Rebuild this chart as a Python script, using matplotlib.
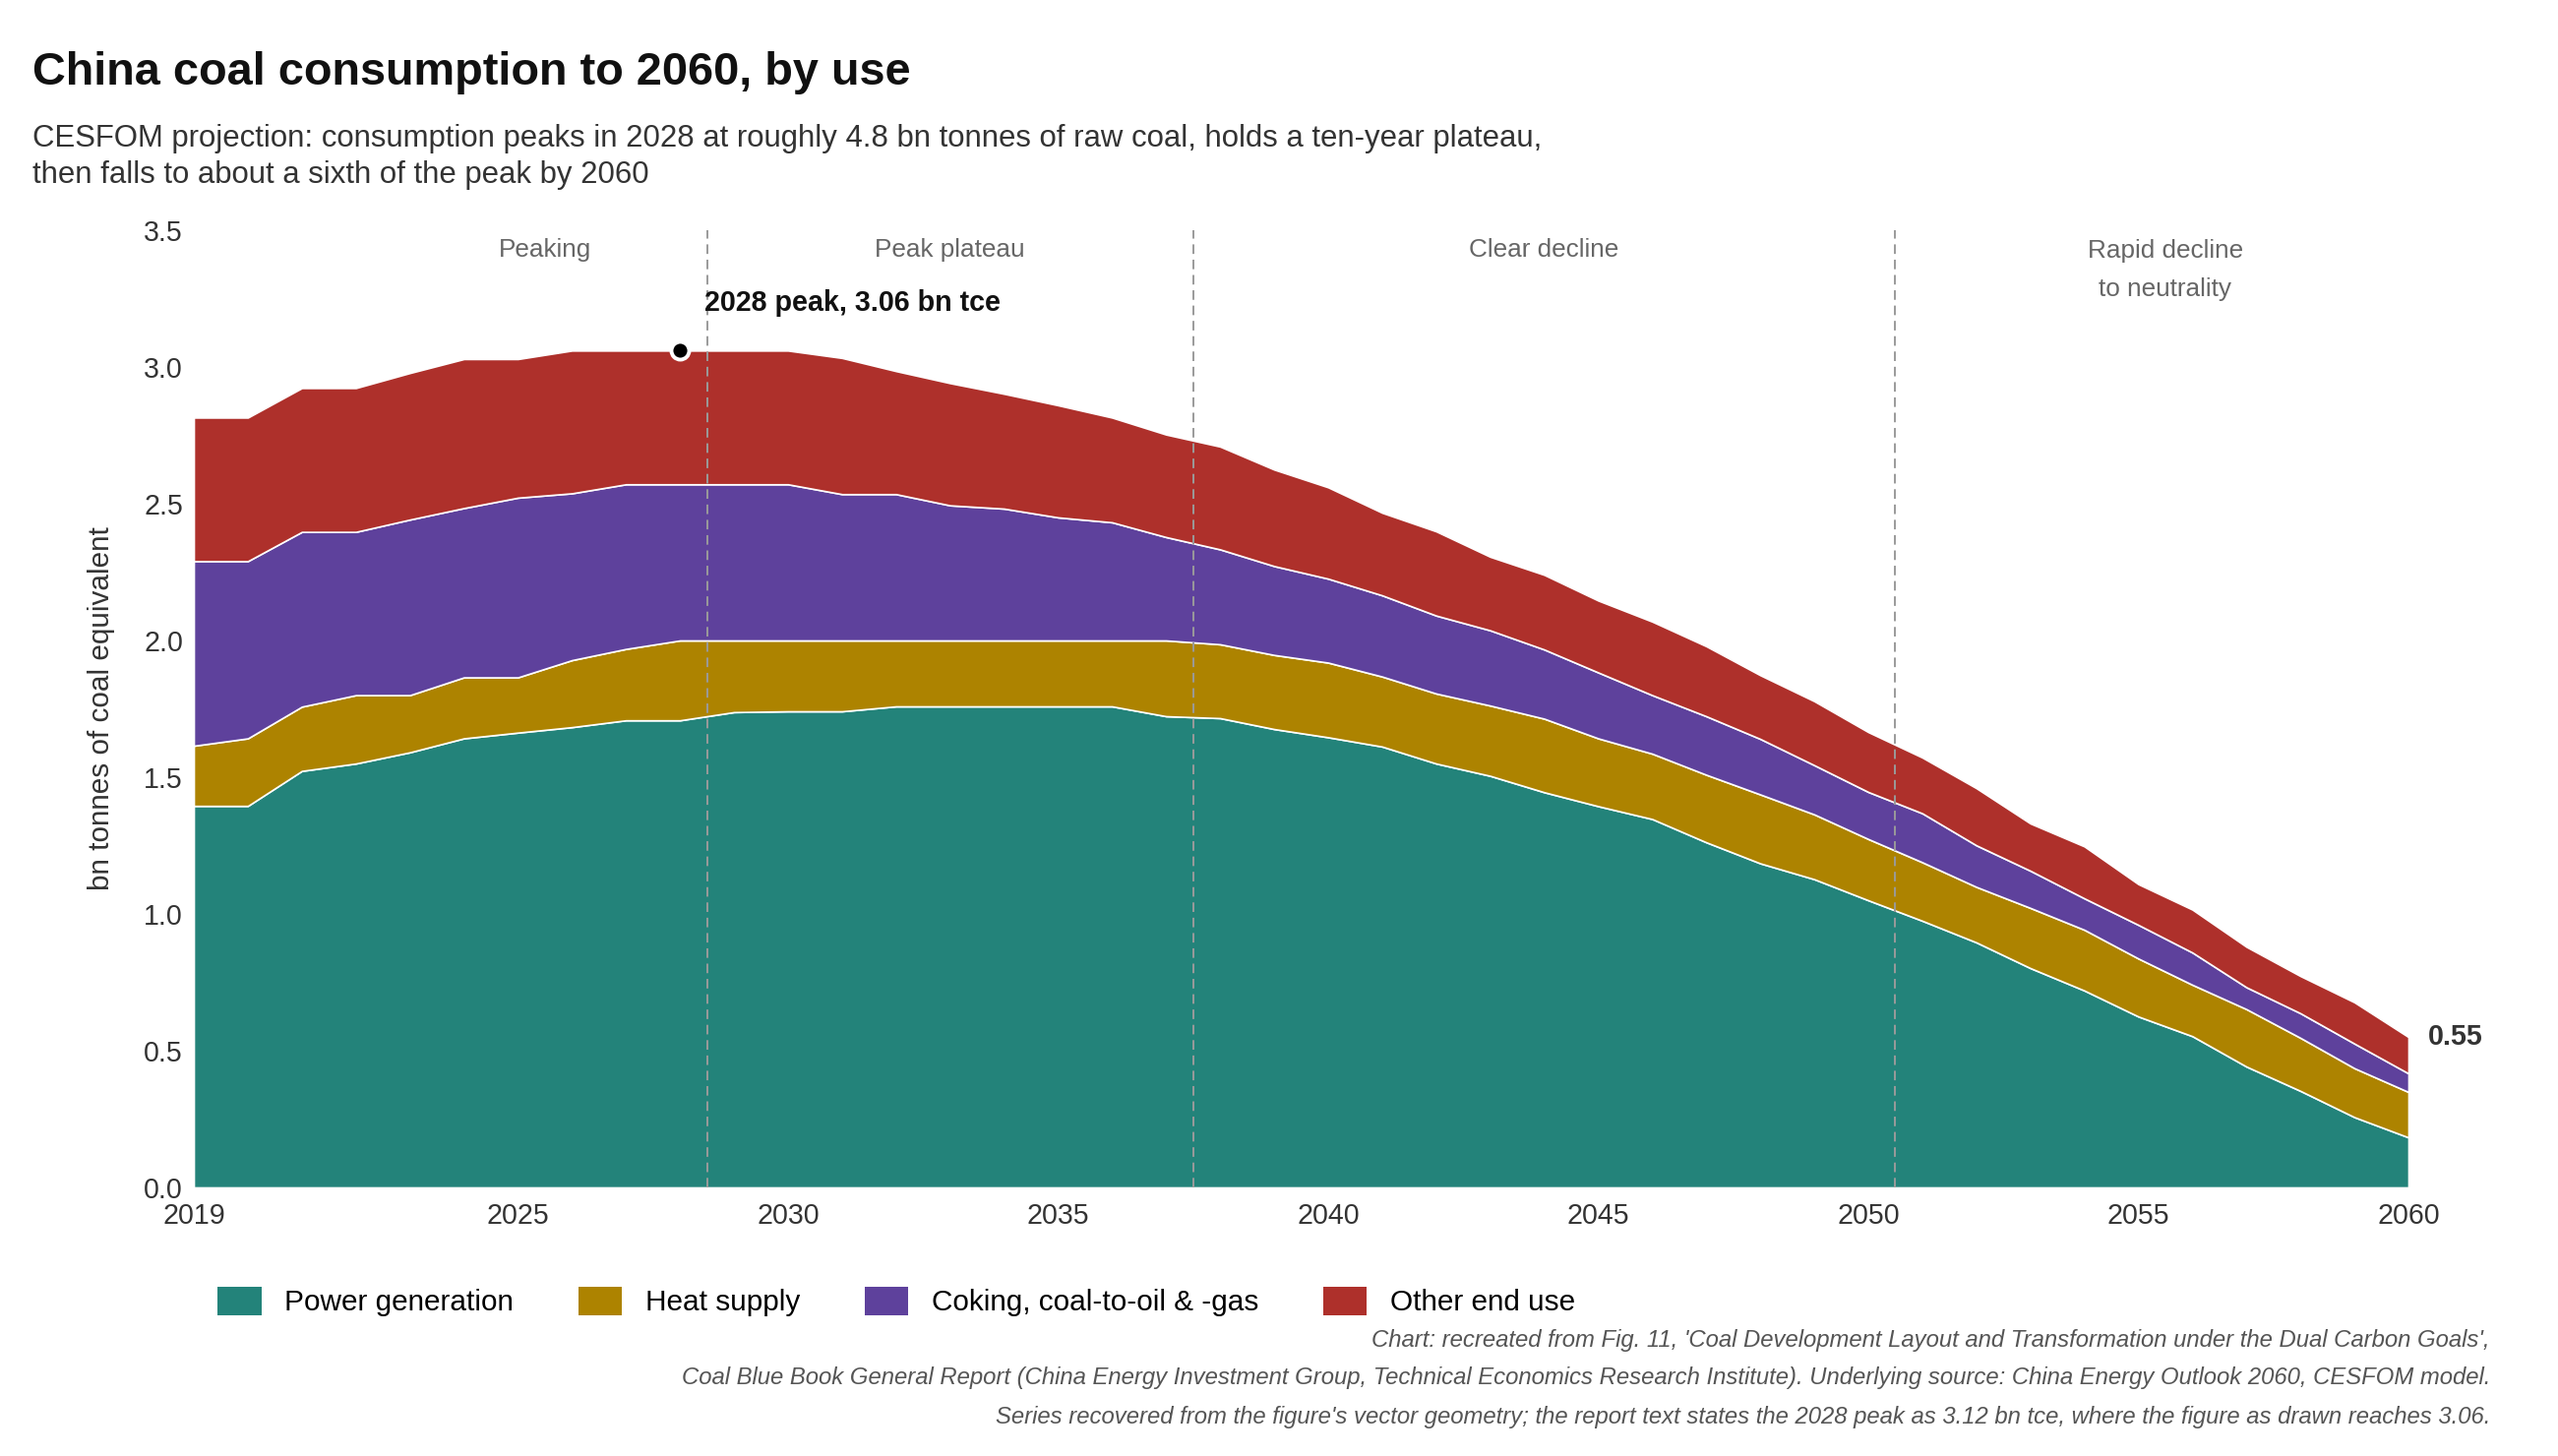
import numpy as np
import matplotlib
matplotlib.use("Agg")
import matplotlib.pyplot as plt
from matplotlib.patches import Patch

plt.rcParams['font.family'] = ['Liberation Sans', 'DejaVu Sans']

# --- data (bn tonnes of coal equivalent) ---
years = list(range(2019, 2061))

power = [1.395, 1.395, 1.523, 1.550, 1.591, 1.642, 1.663, 1.683, 1.708, 1.708,
         1.738, 1.741, 1.741, 1.759, 1.759, 1.759, 1.759, 1.759, 1.723, 1.716,
         1.676, 1.646, 1.612, 1.550, 1.505, 1.445, 1.394, 1.347, 1.262, 1.185,
         1.127, 1.050, 0.975, 0.896, 0.802, 0.720, 0.625, 0.553, 0.442, 0.353,
         0.257, 0.183]
heat = [0.220, 0.247, 0.235, 0.250, 0.209, 0.223, 0.202, 0.245, 0.261, 0.292,
        0.262, 0.259, 0.259, 0.241, 0.241, 0.241, 0.241, 0.241, 0.277, 0.270,
        0.271, 0.273, 0.256, 0.256, 0.257, 0.269, 0.248, 0.239, 0.247, 0.252,
        0.237, 0.224, 0.214, 0.203, 0.220, 0.222, 0.212, 0.188, 0.210, 0.194,
        0.179, 0.166]
coking = [0.675, 0.648, 0.639, 0.597, 0.642, 0.619, 0.657, 0.610, 0.602, 0.571,
          0.571, 0.571, 0.535, 0.535, 0.494, 0.482, 0.450, 0.432, 0.378, 0.347,
          0.325, 0.307, 0.297, 0.285, 0.275, 0.253, 0.241, 0.214, 0.214, 0.203,
          0.180, 0.172, 0.179, 0.152, 0.136, 0.115, 0.123, 0.118, 0.080, 0.090,
          0.090, 0.068]
other = [0.525, 0.525, 0.526, 0.526, 0.536, 0.545, 0.507, 0.522, 0.489, 0.489,
         0.489, 0.489, 0.498, 0.450, 0.447, 0.420, 0.410, 0.383, 0.375, 0.376,
         0.353, 0.334, 0.302, 0.308, 0.269, 0.273, 0.263, 0.269, 0.256, 0.233,
         0.234, 0.219, 0.204, 0.209, 0.173, 0.190, 0.149, 0.157, 0.148, 0.136,
         0.151, 0.133]

series_names = ['Power generation', 'Heat supply', 'Coking, coal-to-oil & -gas', 'Other end use']
colors = ['#23837a', '#ad8300', '#5e419c', '#ae302b']

phase_breaks = [2028.5, 2037.5, 2050.5]
phase_labels = ['Peaking', 'Peak plateau', 'Clear decline', 'Rapid decline\nto neutrality']
phase_label_x = [2025.5, 2033.0, 2044.0, 2055.5]

peak_year = 2028
yticks = [0.0, 0.5, 1.0, 1.5, 2.0, 2.5, 3.0, 3.5]
xticks = [2019, 2025, 2030, 2035, 2040, 2045, 2050, 2055, 2060]

total = np.array(power) + np.array(heat) + np.array(coking) + np.array(other)

# --- figure ---
fig = plt.figure(figsize=(13, 7.4), dpi=200)
ax = fig.add_axes([197 / 2600, 1 - 1207 / 1480, (2448 - 197) / 2600, (1207 - 234) / 1480])

ax.stackplot(years, power, heat, coking, other, colors=colors,
             edgecolor='white', linewidth=0.6)

ax.set_xlim(2019, 2060)
ax.set_ylim(0, 3.5)
ax.set_xticks(xticks)
ax.set_yticks(yticks)
ax.set_yticklabels([f'{v:.1f}' for v in yticks])
ax.tick_params(length=0, labelsize=10.3, colors='#333333')
ax.tick_params(axis='x', pad=5.5)
ax.tick_params(axis='y', pad=4)
for s in ax.spines.values():
    s.set_visible(False)

# phase dividers and labels
for xb in phase_breaks:
    ax.axvline(xb, color='#9a9a9a', lw=0.7, ls=(0, (5, 3)), zorder=3)
for lab, xl in zip(phase_labels, phase_label_x):
    if '\n' in lab:
        ax.text(xl, 3.355, lab, ha='center', va='center', fontsize=9.4,
                color='#666666', linespacing=1.8)
    else:
        ax.text(xl, 3.428, lab, ha='center', va='center', fontsize=9.4, color='#666666')

# peak marker
ipk = years.index(peak_year)
ax.plot([peak_year], [total[ipk]], 'o', color='black', markersize=6.5,
        markeredgecolor='white', markeredgewidth=1.4, zorder=5, clip_on=False)
ax.text(2028.45, 3.234, f'{peak_year} peak, {total[ipk]:.2f} bn tce', ha='left', va='center',
        fontsize=10.3, fontweight='bold', color='#111111')

# end label
ax.text(2060.36, total[-1], f'{total[-1]:.2f}', ha='left', va='center', fontsize=10.3,
        fontweight='bold', color='#333333')

# y label
fig.text(103 / 2600, 1 - 720 / 1480, 'bn tonnes of coal equivalent', rotation=90,
         ha='center', va='center', fontsize=10.7, color='#333333')

# titles
fig.text(33 / 2600, 1 - 86 / 1480, 'China coal consumption to 2060, by use',
         fontsize=16.9, fontweight='bold', color='#111111', va='baseline')
fig.text(33 / 2600, 1 - 149 / 1480,
         'CESFOM projection: consumption peaks in 2028 at roughly 4.8 bn tonnes of raw coal, holds a ten-year plateau,',
         fontsize=11.2, color='#333333', va='baseline')
fig.text(33 / 2600, 1 - 186 / 1480, 'then falls to about a sixth of the peak by 2060',
         fontsize=11.2, color='#333333', va='baseline')

# legend
handles = [Patch(facecolor=c, edgecolor='none') for c in colors]
fig.legend(handles, series_names, loc='center left', bbox_to_anchor=(221 / 2600, 1 - 1323 / 1480),
           ncol=4, frameon=False, fontsize=10.7, handlelength=1.5, handleheight=1.15,
           handletextpad=0.8, columnspacing=2.2, borderpad=0, borderaxespad=0)

# footer
footer = [
    "Chart: recreated from Fig. 11, 'Coal Development Layout and Transformation under the Dual Carbon Goals',",
    "Coal Blue Book General Report (China Energy Investment Group, Technical Economics Research Institute). "
    "Underlying source: China Energy Outlook 2060, CESFOM model.",
    "Series recovered from the figure's vector geometry; the report text states the 2028 peak as 3.12 bn tce, "
    "where the figure as drawn reaches 3.06.",
]
for i, line in enumerate(footer):
    fig.text(2531 / 2600, 1 - (1362 + 39 * i) / 1480, line, ha='right', va='center',
             fontsize=8.6, style='italic', color='#555555')

fig.savefig('out.png', dpi=200, facecolor='white')
